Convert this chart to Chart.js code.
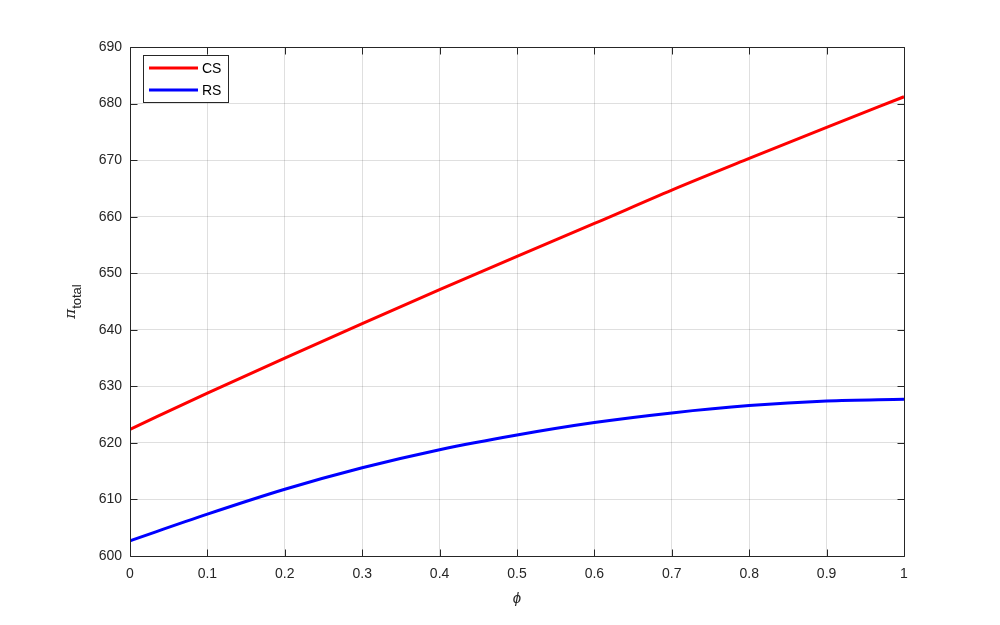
<!DOCTYPE html>
<html>
<head>
<meta charset="utf-8">
<script src="https://cdn.jsdelivr.net/npm/chart.js@4"></script>
<style>
html,body{margin:0;padding:0;background:#fff;}
#c{display:block;}
</style>
</head>
<body>
<canvas id="c" width="1000" height="625"></canvas>
<script>
const phi = [0, 0.1, 0.2, 0.3, 0.4, 0.5, 0.6, 0.7, 0.8, 0.9, 1.0];
const csValues = [622.4, 628.8, 635.0, 641.1, 647.1, 653.0, 658.8, 664.7, 670.3, 675.8, 681.2];
const rsValues = [602.7, 607.4, 611.8, 615.6, 618.8, 621.4, 623.6, 625.3, 626.6, 627.4, 627.7];
const seriesNames = ['CS', 'RS'];
const seriesColors = ['#ff0000', '#0000ff'];
const xTicks = [0, 0.1, 0.2, 0.3, 0.4, 0.5, 0.6, 0.7, 0.8, 0.9, 1];
const yTicks = [600, 610, 620, 630, 640, 650, 660, 670, 680, 690];

const FONT = '"Liberation Sans", Arial, Helvetica, sans-serif';
const AX = '#262626';

const framePlugin = {
  id: 'frame',
  afterDraw(chart) {
    const ctx = chart.ctx;
    const a = chart.chartArea;
    const xs = chart.scales.x, ys = chart.scales.y;
    ctx.save();
    ctx.strokeStyle = AX;
    ctx.lineWidth = 1;
    ctx.beginPath();
    const L = Math.round(a.left) + 0.5, R = Math.round(a.right) + 0.5;
    const T = Math.round(a.top) + 0.5, B = Math.round(a.bottom) + 0.5;
    ctx.rect(L, T, R - L, B - T);
    const tl = 7;
    xTicks.forEach(v => {
      const px = Math.round(xs.getPixelForValue(v)) + 0.5;
      ctx.moveTo(px, B); ctx.lineTo(px, B - tl);
      ctx.moveTo(px, T); ctx.lineTo(px, T + tl);
    });
    yTicks.forEach(v => {
      const py = Math.round(ys.getPixelForValue(v)) + 0.5;
      ctx.moveTo(L, py); ctx.lineTo(L + tl, py);
      ctx.moveTo(R, py); ctx.lineTo(R - tl, py);
    });
    ctx.stroke();

    // axis titles
    ctx.fillStyle = AX;
    ctx.font = 'italic 15px ' + FONT;
    ctx.textAlign = 'center';
    ctx.textBaseline = 'middle';
    ctx.fillText('\u03d5', (a.left + a.right) / 2, 599);

    ctx.save();
    ctx.translate(75, (a.top + a.bottom) / 2);
    ctx.rotate(-Math.PI / 2);
    ctx.textBaseline = 'alphabetic';
    ctx.textAlign = 'left';
    ctx.font = 'italic 15px "DejaVu Serif", serif';
    const w1 = ctx.measureText('\u03c0').width;
    ctx.font = '13px ' + FONT;
    const w2 = ctx.measureText('total').width;
    const start = -(w1 + w2) / 2;
    ctx.font = 'italic 15px "DejaVu Serif", serif';
    ctx.fillText('\u03c0', start, 0);
    ctx.font = '13px ' + FONT;
    ctx.fillText('total', start + w1, 6);
    ctx.restore();

    // legend
    const lx = 143.5, ly = 55.5, lw = 85, lh = 47;
    ctx.fillStyle = '#fff';
    ctx.fillRect(lx, ly, lw, lh);
    ctx.strokeStyle = AX;
    ctx.lineWidth = 1;
    ctx.strokeRect(lx, ly, lw, lh);
    ctx.font = '14px ' + FONT;
    ctx.textAlign = 'left';
    ctx.textBaseline = 'middle';
    seriesNames.forEach((n, i) => {
      const yy = 68 + i * 22;
      ctx.strokeStyle = seriesColors[i];
      ctx.lineWidth = 3;
      ctx.beginPath();
      ctx.moveTo(149, yy); ctx.lineTo(198, yy);
      ctx.stroke();
      ctx.fillStyle = '#000';
      ctx.fillText(n, 202, yy + 1);
    });
    ctx.restore();
  }
};

new Chart(document.getElementById('c'), {
  type: 'line',
  data: {
    datasets: [
      { label: seriesNames[0], data: phi.map((x, i) => ({x, y: csValues[i]})), borderColor: seriesColors[0], borderWidth: 3, pointRadius: 0, cubicInterpolationMode: 'monotone', fill: false },
      { label: seriesNames[1], data: phi.map((x, i) => ({x, y: rsValues[i]})), borderColor: seriesColors[1], borderWidth: 3, pointRadius: 0, cubicInterpolationMode: 'monotone', fill: false }
    ]
  },
  options: {
    responsive: false,
    animation: false,
    layout: { padding: { left: 0, right: 96, top: 47, bottom: 0 } },
    plugins: { legend: { display: false }, tooltip: { enabled: false } },
    scales: {
      x: {
        type: 'linear', min: 0, max: 1,
        afterBuildTicks: s => { s.ticks = xTicks.map(v => ({value: v})); },
        afterFit: s => { s.height = 69; },
        grid: { color: 'rgba(38,38,38,0.15)', drawTicks: false },
        border: { display: false },
        ticks: { color: AX, font: { family: FONT, size: 14 }, padding: 10, maxRotation: 0,
                 callback: v => String(v) }
      },
      y: {
        type: 'linear', min: 600, max: 690,
        afterBuildTicks: s => { s.ticks = yTicks.map(v => ({value: v})); },
        afterFit: s => { s.width = 130; },
        grid: { color: 'rgba(38,38,38,0.15)', drawTicks: false },
        border: { display: false },
        ticks: { color: AX, font: { family: FONT, size: 14 }, padding: 8, callback: v => String(v) }
      }
    }
  },
  plugins: [framePlugin]
});
</script>
</body>
</html>
